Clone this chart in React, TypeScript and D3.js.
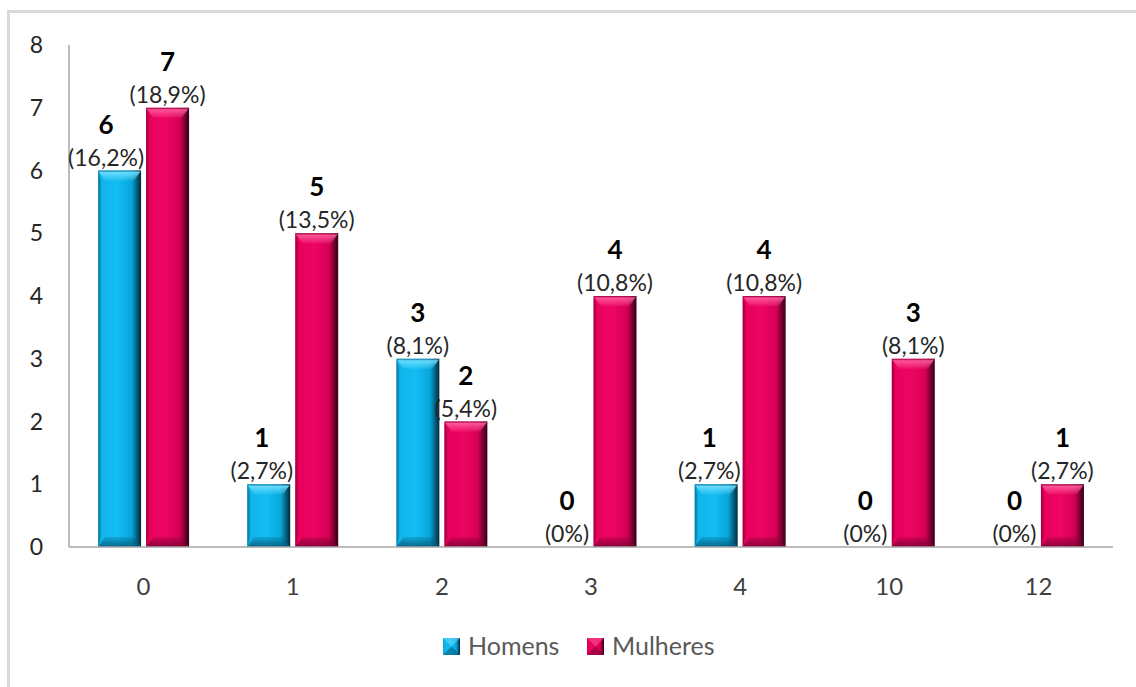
import React, { useEffect, useRef } from "react";
import * as d3 from "d3";

// Number of children per person, split by sex
const categories = ["0", "1", "2", "3", "4", "10", "12"];
const homens = [6, 1, 3, 0, 1, 0, 0];
const mulheres = [7, 5, 2, 4, 4, 3, 1];
const totalPessoas = 37;
const yTicks = [0, 1, 2, 3, 4, 5, 6, 7, 8];
const seriesNames = ["Homens", "Mulheres"];

const W = 1136;
const H = 687;
const FONT = "Lato, 'Open Sans', sans-serif";

type Palette = { id: string; stops: [number, string][]; hi: string; lo: string };

const palettes: Palette[] = [
  {
    id: "blue",
    stops: [
      [0, "#0a96c6"],
      [0.07, "#10b4ea"],
      [0.45, "#13bdf3"],
      [0.78, "#07a6da"],
      [0.9, "#046183"],
      [1, "#012a3a"],
    ],
    hi: "#6fe0ff",
    lo: "#035a78",
  },
  {
    id: "pink",
    stops: [
      [0, "#c2004b"],
      [0.07, "#e8005c"],
      [0.45, "#ee0563"],
      [0.78, "#d60055"],
      [0.9, "#7a0031"],
      [1, "#340015"],
    ],
    hi: "#ff5c9d",
    lo: "#7a0030",
  },
];

const pct = (v: number) =>
  "(" + d3.format(v === 0 ? ".0f" : ".1f")((v / totalPessoas) * 100).replace(".", ",") + "%)";

export default function App() {
  const ref = useRef<SVGSVGElement | null>(null);

  useEffect(() => {
    const svg = d3.select(ref.current);
    svg.selectAll("*").remove();

    const defs = svg.append("defs");
    palettes.forEach((p) => {
      const g = defs
        .append("linearGradient")
        .attr("id", `body-${p.id}`)
        .attr("x1", 0)
        .attr("x2", 1)
        .attr("y1", 0)
        .attr("y2", 0);
      p.stops.forEach(([o, c]) => g.append("stop").attr("offset", o).attr("stop-color", c));
      const t = defs
        .append("linearGradient")
        .attr("id", `top-${p.id}`)
        .attr("x1", 0)
        .attr("x2", 0)
        .attr("y1", 0)
        .attr("y2", 1);
      t.append("stop").attr("offset", 0).attr("stop-color", p.lo).attr("stop-opacity", 0.6);
      t.append("stop").attr("offset", 0.2).attr("stop-color", p.hi).attr("stop-opacity", 0.9);
      t.append("stop").attr("offset", 1).attr("stop-color", p.hi).attr("stop-opacity", 0.15);
      const b = defs
        .append("linearGradient")
        .attr("id", `bot-${p.id}`)
        .attr("x1", 0)
        .attr("x2", 0)
        .attr("y1", 0)
        .attr("y2", 1);
      b.append("stop").attr("offset", 0).attr("stop-color", p.lo).attr("stop-opacity", 0.2);
      b.append("stop").attr("offset", 1).attr("stop-color", p.lo).attr("stop-opacity", 0.85);
    });

    // outer frame
    svg
      .append("rect")
      .attr("x", 8.5)
      .attr("y", 11.5)
      .attr("width", W)
      .attr("height", H)
      .attr("fill", "white")
      .attr("stroke", "#d9d9d9")
      .attr("stroke-width", 3);

    const left = 69;
    const right = 1113;
    const top = 45;
    const bottom = 547;

    const x = d3.scaleBand<string>().domain(categories).range([left, right]).padding(0);
    const y = d3.scaleLinear().domain([0, 8]).range([bottom, top]);
    const barW = 43;
    const gap = 5;
    const offsets = [-(gap / 2 + barW), gap / 2];

    // y tick labels
    svg
      .append("g")
      .selectAll("text")
      .data(yTicks)
      .join("text")
      .attr("x", 43)
      .attr("y", (d) => y(d))
      .attr("dy", "0.35em")
      .attr("text-anchor", "end")
      .attr("font-family", FONT)
      .attr("font-size", 23)
      .attr("fill", "#262626")
      .text((d) => d);

    // category labels
    svg
      .append("g")
      .selectAll("text")
      .data(categories)
      .join("text")
      .attr("x", (d) => (x(d) as number) + x.bandwidth() / 2)
      .attr("y", 587)
      .attr("dy", "0.35em")
      .attr("text-anchor", "middle")
      .attr("font-family", FONT)
      .attr("font-size", 24)
      .attr("fill", "#404040")
      .text((d) => d);

    const drawBar = (g: any, bx: number, by: number, w: number, h: number, p: Palette) => {
      if (h <= 0) return;
      const bv = Math.min(10, h / 2);
      const sv = 7;
      g.append("rect")
        .attr("x", bx)
        .attr("y", by)
        .attr("width", w)
        .attr("height", h)
        .attr("fill", `url(#body-${p.id})`);
      // top bevel
      g.append("path")
        .attr(
          "d",
          `M${bx},${by}L${bx + w},${by}L${bx + w - sv},${by + bv}L${bx + sv},${by + bv}Z`
        )
        .attr("fill", `url(#top-${p.id})`);
      // bottom bevel
      g.append("path")
        .attr(
          "d",
          `M${bx + sv},${by + h - bv}L${bx + w - sv},${by + h - bv}L${bx + w},${by + h}L${bx},${by + h}Z`
        )
        .attr("fill", `url(#bot-${p.id})`);
      // left bevel
      g.append("path")
        .attr(
          "d",
          `M${bx},${by}L${bx + sv * 0.4},${by + bv}L${bx + sv * 0.4},${by + h - bv}L${bx},${by + h}Z`
        )
        .attr("fill", p.lo)
        .attr("opacity", 0.35);
    };

    const bars = svg.append("g");
    const series = [homens, mulheres];
    series.forEach((vals, si) => {
      vals.forEach((v, i) => {
        const bx = (x(categories[i]) as number) + x.bandwidth() / 2 + offsets[si];
        drawBar(bars, bx, y(v), barW, y(0) - y(v), palettes[si]);
      });
    });

    // axes lines
    svg
      .append("line")
      .attr("x1", left)
      .attr("x2", left)
      .attr("y1", top)
      .attr("y2", bottom)
      .attr("stroke", "#a6a6a6")
      .attr("stroke-width", 1.5);
    svg
      .append("line")
      .attr("x1", left)
      .attr("x2", right)
      .attr("y1", bottom)
      .attr("y2", bottom)
      .attr("stroke", "#a6a6a6")
      .attr("stroke-width", 1.5);

    // value labels
    const labels = svg.append("g");
    series.forEach((vals, si) => {
      vals.forEach((v, i) => {
        const cx = (x(categories[i]) as number) + x.bandwidth() / 2 + offsets[si] + barW / 2;
        const by = y(v);
        const p = labels
          .append("text")
          .attr("x", cx)
          .attr("y", by - 5)
          .attr("text-anchor", "middle")
          .attr("font-family", FONT)
          .attr("font-size", 23)
          .attr("fill", "#262626")
          .text(pct(v));
        const n = labels
          .append("text")
          .attr("x", cx)
          .attr("y", by - 37)
          .attr("text-anchor", "middle")
          .attr("font-family", FONT)
          .attr("font-size", 26)
          .attr("font-weight", "bold")
          .attr("fill", "#000")
          .text(v);
        // shift the left label away from a taller neighbouring bar
        if (si === 0) {
          const other = mulheres[i];
          const tw = (p.node() as SVGTextElement).getComputedTextLength();
          const neighbourLeft = cx + barW / 2 + gap;
          if (other > v && cx + tw / 2 > neighbourLeft) {
            const nx = cx + barW / 2 + 3 - tw / 2;
            p.attr("x", nx);
            n.attr("x", nx);
          }
        }
      });
    });

    // legend
    const legend = svg.append("g");
    const legendX = [443, 587];
    seriesNames.forEach((name, si) => {
      const lx = legendX[si];
      const ly = 638;
      const pal = palettes[si];
      legend
        .append("rect")
        .attr("x", lx)
        .attr("y", ly)
        .attr("width", 17)
        .attr("height", 17)
        .attr("fill", `url(#body-${pal.id})`);
      legend
        .append("path")
        .attr("d", `M${lx},${ly}L${lx + 17},${ly}L${lx + 8.5},${ly + 8.5}Z`)
        .attr("fill", pal.hi)
        .attr("opacity", 0.5);
      legend
        .append("path")
        .attr("d", `M${lx},${ly + 17}L${lx + 17},${ly + 17}L${lx + 8.5},${ly + 8.5}Z`)
        .attr("fill", pal.lo)
        .attr("opacity", 0.6);
      legend
        .append("text")
        .attr("x", lx + 25)
        .attr("y", ly + 8.5)
        .attr("dy", "0.35em")
        .attr("font-family", FONT)
        .attr("font-size", 25)
        .attr("fill", "#595959")
        .text(name);
    });
  }, []);

  return (
    <svg
      ref={ref}
      width={W}
      height={H}
      style={{ position: "absolute", left: 0, top: 0, background: "white" }}
    />
  );
}
